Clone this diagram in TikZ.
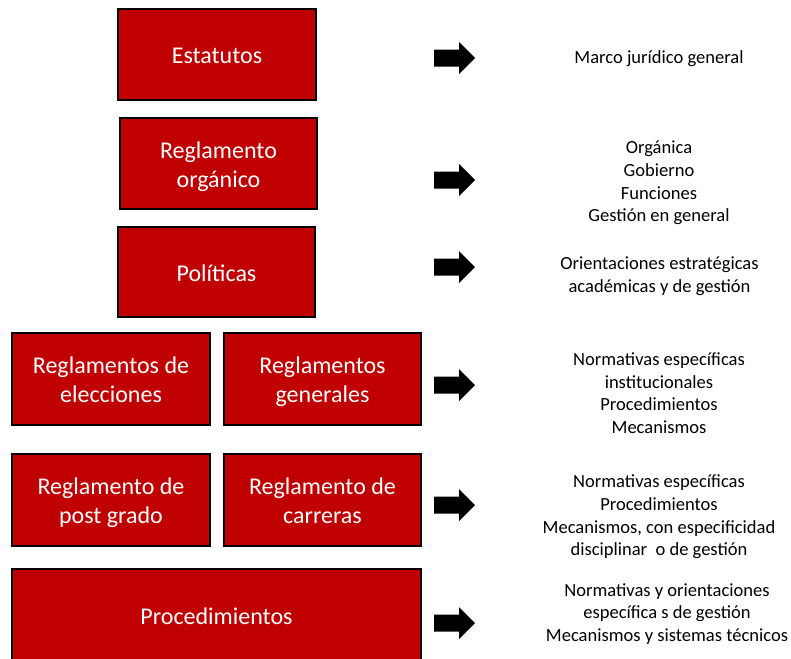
\documentclass[tikz,border=0pt]{standalone}
\usepackage{fontspec}
\setmainfont{Carlito}
\definecolor{boxred}{HTML}{C00000}
\newcommand{\btext}[2]{\raisebox{#1}[0pt][0pt]{\begin{tabular}[t]{@{}c@{}}#2\end{tabular}}}
\begin{document}
\begin{tikzpicture}[x=0.75pt,y=-0.75pt,
  redbox/.style={draw=black, line width=1.6pt, fill=boxred, text=white, align=center,
     font=\fontsize{18}{21.75}\selectfont, inner sep=0pt},
  desc/.style={align=center, text=black, font=\fontsize{13.9}{17}\selectfont, inner sep=0pt},
  blockarrow/.pic={\fill[black] (-20.5,-8.5) -- (4.5,-8.5) -- (4.5,-16) -- (20.5,0) -- (4.5,16) -- (4.5,8.5) -- (-20.5,8.5) -- cycle;}
]
\clip (0,0) rectangle (791,658);
\fill[white] (0,0) rectangle (791,658);

\node[redbox, minimum width=148.5pt, minimum height=68.25pt] (estatutos) at (217,54.5) {\btext{-6.6pt}{Estatutos}};
\node[redbox, minimum width=147.75pt, minimum height=68.25pt] (organico) at (218.5,163.5) {\btext{4pt}{Reglamento\\orgánico}};
\node[redbox, minimum width=147.75pt, minimum height=67.5pt] (politicas) at (216.5,272) {\btext{-7.2pt}{Políticas}};
\node[redbox, minimum width=148.5pt, minimum height=69pt] (elecciones) at (111,379) {\btext{4pt}{Reglamentos de\\elecciones}};
\node[redbox, minimum width=147.75pt, minimum height=69pt] (generales) at (322.5,379) {\btext{4pt}{Reglamentos\\generales}};
\node[redbox, minimum width=148.5pt, minimum height=69pt] (postgrado) at (111,500) {\btext{4pt}{Reglamento de\\post grado}};
\node[redbox, minimum width=147.75pt, minimum height=69pt] (carreras) at (322.5,500) {\btext{4pt}{Reglamento de\\carreras}};
\node[redbox, minimum width=306.75pt, minimum height=72pt] (procedimientos) at (216.5,617) {\btext{-5.5pt}{Procedimientos}};

\pic at (454.5,58) {blockarrow};
\pic at (454.5,180) {blockarrow};
\pic at (454.5,267) {blockarrow};
\pic at (454.5,385) {blockarrow};
\pic at (454.5,505) {blockarrow};
\pic at (454.5,623) {blockarrow};

\node[desc] (d1) at (659,59) {Marco jurídico general};
\node[desc] (d2) at (659,183) {Orgánica\\Gobierno\\Funciones\\Gestión en general};
\node[desc] (d3) at (659.5,276) {Orientaciones estratégicas\\académicas y de gestión};
\node[desc] (d4) at (659,393) {Normativas específicas\\institucionales\\Procedimientos\\Mecanismos};
\node[desc] (d5) at (659,517) {Normativas específicas\\Procedimientos\\Mecanismos, con especificidad\\disciplinar~ o de gestión};
\node[desc] (d6) at (667,614) {Normativas y orientaciones\\específica s de gestión\\Mecanismos y sistemas técnicos};
\end{tikzpicture}
\end{document}
